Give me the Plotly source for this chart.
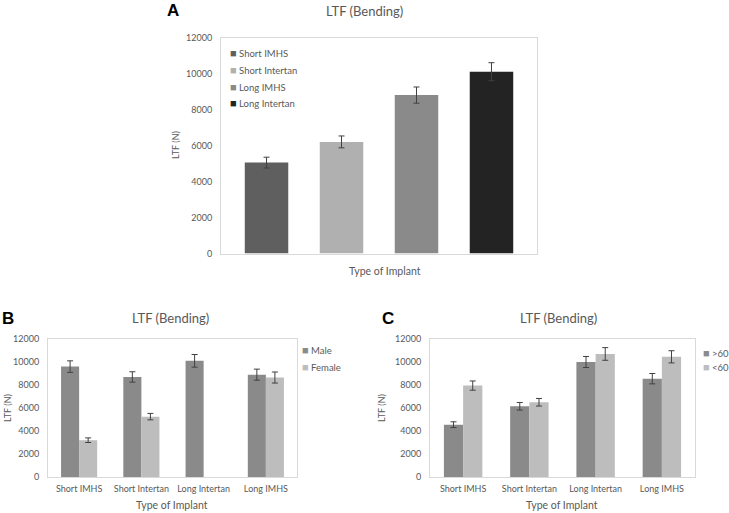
import plotly.graph_objects as go

# ---------------- data ----------------
implants_a = ["Short IMHS", "Short Intertan", "Long IMHS", "Long Intertan"]
ltf_a = [5050, 6200, 8800, 10100]
ltf_a_err = [300, 330, 450, 500]

implants_bc = ["Short IMHS", "Short Intertan", "Long Intertan", "Long IMHS"]
male = [9600, 8700, 10100, 8900]
male_err = [500, 450, 550, 480]
female = [3200, 5250, None, 8650]
female_err = [200, 280, None, 480]

over60 = [4550, 6150, 10000, 8550]
over60_err = [250, 330, 480, 450]
under60 = [7950, 6500, 10700, 10450]
under60_err = [400, 330, 550, 530]

y_ticks = [0, 2000, 4000, 6000, 8000, 10000, 12000]

# ---------------- style ----------------
W, H = 729, 513
FONT = "Lato, Calibri, 'Liberation Sans', sans-serif"
GREY_TXT = "#595959"
colors_a = ["#5f5f5f", "#b0b0b0", "#8a8a8a", "#232323"]
col_dark = "#8a8a8a"
col_light = "#bdbdbd"
ERR_COL = "#404040"


def px(x):
    return x / W


def py(y):
    return 1 - y / H


def err(arr):
    return dict(type="data", array=arr, visible=True, color=ERR_COL,
                thickness=1, width=3)


fig = go.Figure()

# Panel A
for name, val, e, c in zip(implants_a, ltf_a, ltf_a_err, colors_a):
    fig.add_trace(go.Bar(x=[name], y=[val], name=name, marker_color=c,
                         error_y=err([e]), offsetgroup="a",
                         xaxis="x", yaxis="y", showlegend=False))

# Panel B
fig.add_trace(go.Bar(x=implants_bc, y=male, name="Male", marker_color=col_dark,
                     error_y=err(male_err), xaxis="x2", yaxis="y2", showlegend=False))
fig.add_trace(go.Bar(x=implants_bc, y=female, name="Female", marker_color=col_light,
                     error_y=err(female_err), xaxis="x2", yaxis="y2", showlegend=False))

# Panel C
fig.add_trace(go.Bar(x=implants_bc, y=over60, name=">60", marker_color=col_dark,
                     error_y=err(over60_err), xaxis="x3", yaxis="y3", showlegend=False))
fig.add_trace(go.Bar(x=implants_bc, y=under60, name="<60", marker_color=col_light,
                     error_y=err(under60_err), xaxis="x3", yaxis="y3", showlegend=False))

line_col = "#d9d9d9"
common_x = dict(showline=True, linecolor=line_col, linewidth=1, mirror=True,
                showgrid=False, zeroline=False, ticks="", automargin=False,
                tickfont=dict(size=9, color=GREY_TXT, family=FONT),
                ticklabelstandoff=3)
common_y = dict(showline=True, linecolor=line_col, linewidth=1, mirror=True,
                showgrid=False, zeroline=False, ticks="", automargin=False,
                range=[0, 12000], tickvals=y_ticks,
                ticktext=[str(t) for t in y_ticks],
                tickfont=dict(size=9, color=GREY_TXT, family=FONT),
                ticklabelstandoff=6)

fig.update_layout(
    template="none",
    width=W, height=H, autosize=False,
    margin=dict(l=0, r=0, t=0, b=0),
    paper_bgcolor="white", plot_bgcolor="white",
    font=dict(family=FONT, color=GREY_TXT),
    barmode="group", bargap=0.42, bargroupgap=0,
    showlegend=False,
    xaxis=dict(common_x, domain=[px(221), px(537)], anchor="y",
               showticklabels=False, range=[-0.607, 3.607]),
    yaxis=dict(common_y, domain=[py(253.5), py(37.5)], anchor="x"),
    xaxis2=dict(common_x, domain=[px(48), px(297)], anchor="y2"),
    yaxis2=dict(common_y, domain=[py(477), py(339)], anchor="x2"),
    xaxis3=dict(common_x, domain=[px(430), px(695)], anchor="y3"),
    yaxis3=dict(common_y, domain=[py(477), py(339)], anchor="x3"),
)

ann = []


def text(x, y, s, size=10, color=GREY_TXT, angle=0, xanchor="center", family=FONT):
    ann.append(dict(x=px(x), y=py(y), xref="paper", yref="paper", text=s,
                    showarrow=False, xanchor=xanchor, yanchor="middle",
                    textangle=angle, font=dict(size=size, color=color, family=family)))


# Titles
text(364, 11, "LTF (Bending)", size=13)
text(170, 318, "LTF (Bending)", size=13)
text(558, 318, "LTF (Bending)", size=13)
# Panel letters
LET = "'Liberation Sans', Arial, sans-serif"
text(173, 11, "<b>A</b>", size=17, color="black", family=LET)
text(8, 318, "<b>B</b>", size=17, color="black", family=LET)
text(388, 318, "<b>C</b>", size=17, color="black", family=LET)
# Axis titles
text(175, 145, "LTF (N)", size=9, angle=-90)
text(7, 408, "LTF (N)", size=9, angle=-90)
text(381, 408, "LTF (N)", size=9, angle=-90)
text(385, 271, "Type of Implant", size=10.5)
text(172, 505, "Type of Implant", size=10.5)
text(562, 505, "Type of Implant", size=10.5)


# Legends (colour square + series name)
def legend(x, ys, names, cols):
    for yy, n, c in zip(ys, names, cols):
        label = n.replace("<", "&lt;").replace(">", "&gt;")
        s = f'<span style="color:{c};font-size:11px">■</span> {label}'
        text(x, yy, s, size=9.5, xanchor="left")


legend(228, [52, 69, 86, 103], implants_a, colors_a)
legend(300, [349, 366], ["Male", "Female"], [col_dark, col_light])
legend(701, [352, 366], [">60", "<60"], [col_dark, col_light])

fig.update_layout(annotations=ann)
fig.write_html(
    "out.html",
    config={"displayModeBar": False},
    post_script="document.body.style.margin='0';document.body.style.overflow='hidden';",
)
